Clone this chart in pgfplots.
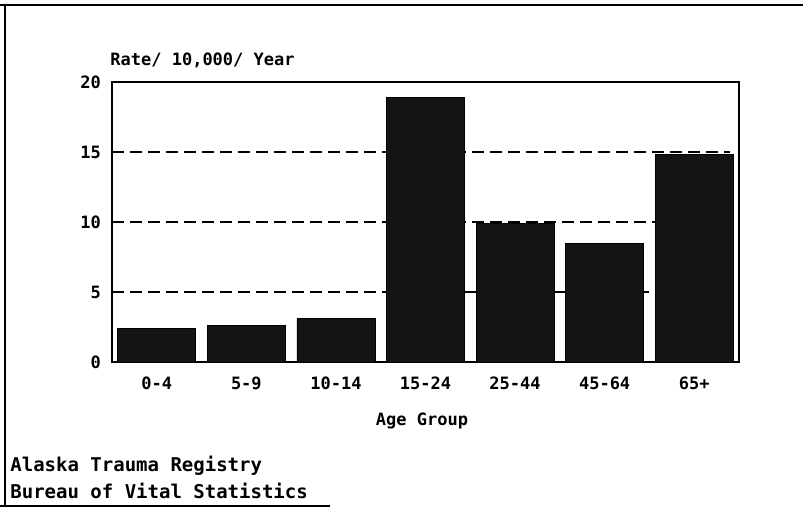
\documentclass[border=0pt]{standalone}
\usepackage{pgfplots}
\pgfplotsset{compat=1.18}
\usepackage{fontspec}
\setmainfont{DejaVu Sans Mono}
\begin{document}
\begin{tikzpicture}
\useasboundingbox (0,0) rectangle (401.5pt,255pt);
% outer frame
\draw[line width=1pt] (0,252.5pt) -- (401.5pt,252.5pt);
\draw[line width=1pt] (2.5pt,253pt) -- (2.5pt,2pt);
\draw[line width=0.9pt] (0,2pt) -- (165pt,2pt);
\begin{axis}[
  at={(56pt,74pt)}, anchor=south west,
  scale only axis, width=313.5pt, height=140pt,
  xmin=-0.5, xmax=6.5, ymin=0, ymax=20,
  xtick={0,1,2,3,4,5,6},
  xticklabels={0-4,5-9,10-14,15-24,25-44,45-64,65+},
  ytick={0,5,10,15,20},
  major tick length=0pt,
  axis line style={line width=1pt},
  /pgf/number format/assume math mode=true,
  ticklabel style={font=\fontsize{8.5}{10}\selectfont\bfseries},
  yticklabel style={xshift=-2pt},
  xticklabel style={yshift=-4pt},
]
\addplot[line width=1.4pt, dash pattern=on 6pt off 3pt] coordinates {(-0.5,15) (6.4,15)};
\addplot[line width=1.4pt, dash pattern=on 6pt off 3pt] coordinates {(-0.5,10) (6,10)};
\addplot[line width=1.4pt, dash pattern=on 6pt off 3pt] coordinates {(-0.5,5) (3,5)};
\addplot[line width=1pt] coordinates {(3,5) (5.5,5)};
\addplot[ybar, bar width=39pt, fill=black!92, draw=black] coordinates {
(0,2.4) (1,2.6) (2,3.1) (3,18.9) (4,9.9) (5,8.5) (6,14.8)};
\end{axis}
\node[anchor=west, font=\fontsize{8.5}{10}\selectfont\bfseries, inner sep=0pt] at (55pt,225pt) {Rate/ 10,000/ Year};
\node[font=\fontsize{8.5}{10}\selectfont\bfseries, inner sep=0pt] at (211pt,44.5pt) {Age Group};
\node[anchor=west, font=\fontsize{9.5}{11}\selectfont\bfseries, inner sep=0pt] at (5pt,22pt) {Alaska Trauma Registry};
\node[anchor=west, font=\fontsize{9.5}{11}\selectfont\bfseries, inner sep=0pt] at (5pt,9.5pt) {Bureau of Vital Statistics};
\end{tikzpicture}
\end{document}
